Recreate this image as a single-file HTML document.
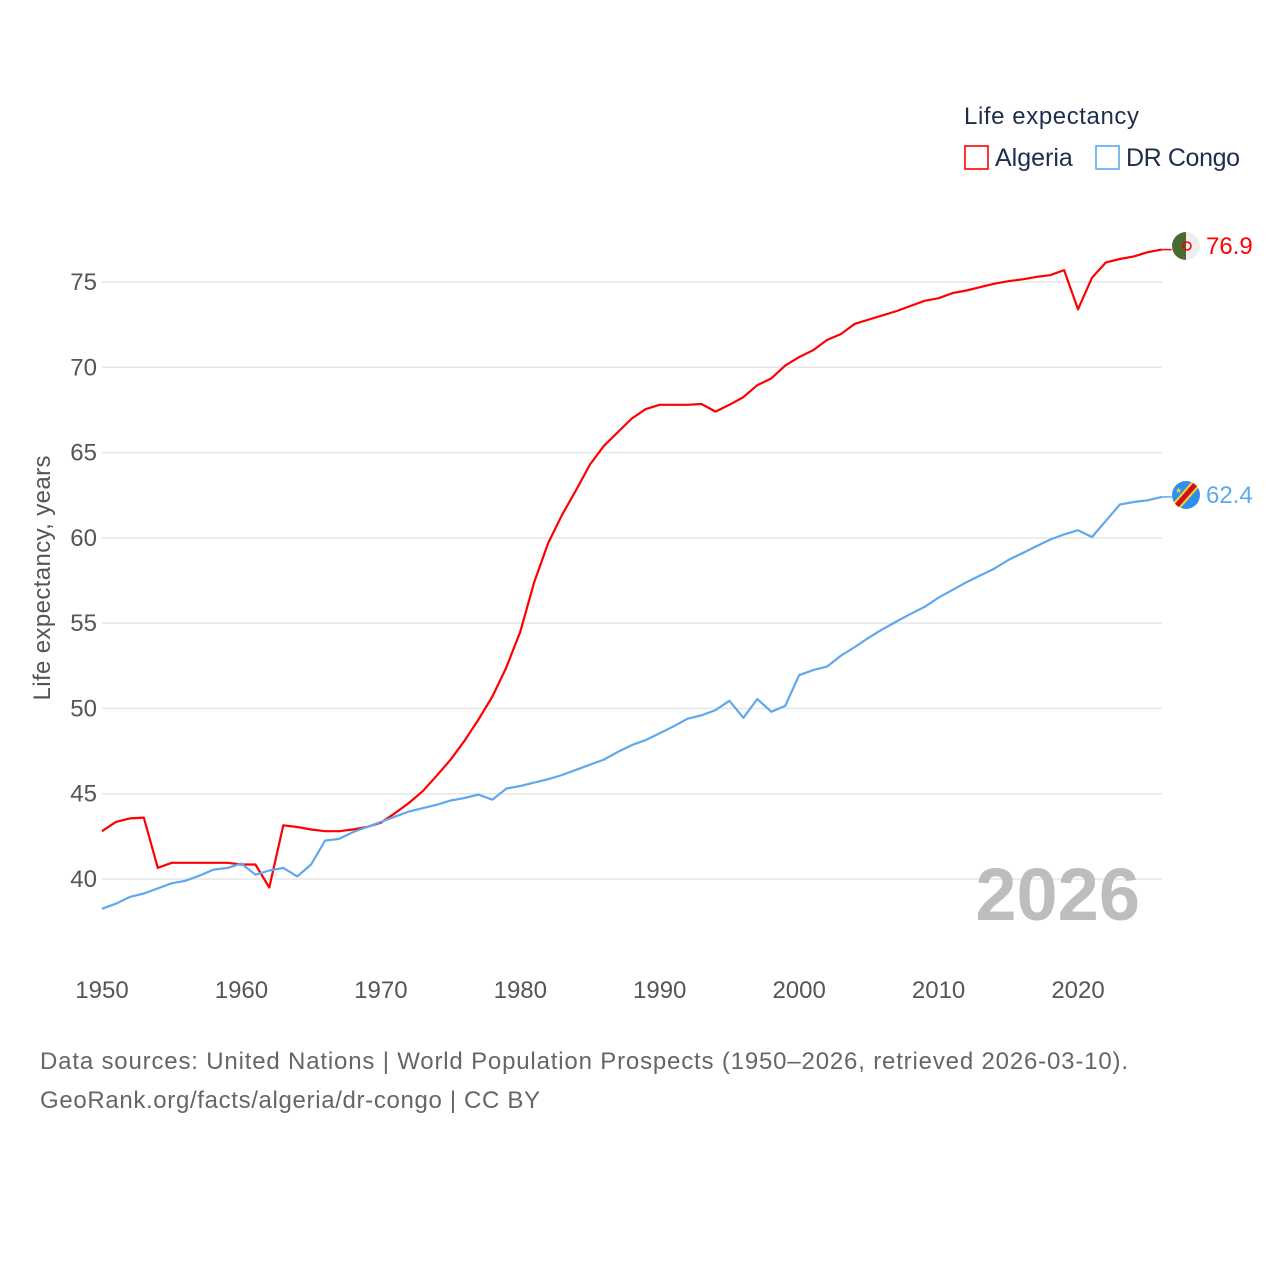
<!DOCTYPE html>
<html><head><meta charset="utf-8"><style>
html,body{margin:0;padding:0;background:#fff;}
svg{display:block;font-family:"Liberation Sans",sans-serif;}
</style></head><body>
<svg id="chart" width="1280" height="1280" viewBox="0 0 1280 1280" xmlns="http://www.w3.org/2000/svg">
<text x="964" y="124" font-size="24" fill="#1f2d4d" textLength="175">Life expectancy</text>
<g>
<rect x="965" y="146" width="23" height="23" fill="none" stroke="#ff0000" stroke-width="1.6"/>
<text x="995" y="166" font-size="25" fill="#1f2d4d">Algeria</text></g>
<g>
<rect x="1096" y="146" width="23" height="23" fill="none" stroke="#5fa8ef" stroke-width="1.6"/>
<text x="1126" y="166" font-size="25" fill="#1f2d4d" textLength="114">DR Congo</text></g>
<g id="grid"></g><g id="yticks"></g><g id="xticks"></g>
<text transform="translate(50,578) rotate(-90)" text-anchor="middle" font-size="24" fill="#555" textLength="245">Life expectancy, years</text>
<text x="1140" y="920" text-anchor="end" font-size="74" font-weight="bold" fill="#bdbdbd">2026</text>
<g id="series"></g>
<g>
<circle cx="1186" cy="246" r="14" fill="#eeeeee"/>
<path d="M1186 232 A14 14 0 0 0 1186 260 Z" fill="#4a6b30"/>
<circle cx="1187" cy="246" r="4" fill="none" stroke="#e00" stroke-width="1.5"/></g>
<text x="1206" y="254" font-size="24" fill="#ff0000">76.9</text>
<g>
<clipPath id="cc"><circle cx="1186" cy="495" r="14"/></clipPath>
<circle cx="1186" cy="495" r="14" fill="#2f8ef0"/>
<g clip-path="url(#cc)"><line x1="1172" y1="511" x2="1200" y2="479" stroke="#f7d618" stroke-width="9"/><line x1="1172" y1="511" x2="1200" y2="479" stroke="#ce1021" stroke-width="5"/></g>
<text x="1175" y="493" font-size="8" fill="#f7d618">★</text></g>
<text x="1206" y="503" font-size="24" fill="#5fa8ef">62.4</text>
<text x="40" y="1069" font-size="24" fill="#666" textLength="1088">Data sources: United Nations | World Population Prospects (1950–2026, retrieved 2026-03-10).</text>
<text x="40" y="1108" font-size="24" fill="#666" textLength="500">GeoRank.org/facts/algeria/dr-congo | CC BY</text>
</svg>
<script>
const startYear = 1950;
const yTicks = [40,45,50,55,60,65,70,75];
const xTicks = [1950,1960,1970,1980,1990,2000,2010,2020];
const algeria = [42.8,43.35,43.55,43.6,40.65,40.95,40.95,40.95,40.95,40.95,40.85,40.85,39.5,43.15,43.05,42.9,42.8,42.8,42.9,43.05,43.3,43.85,44.45,45.15,46.05,47.0,48.1,49.35,50.7,52.4,54.5,57.4,59.7,61.35,62.8,64.3,65.4,66.2,67.0,67.55,67.8,67.8,67.8,67.85,67.4,67.8,68.25,68.95,69.35,70.1,70.6,71.0,71.6,71.95,72.55,72.8,73.05,73.3,73.6,73.9,74.05,74.35,74.5,74.7,74.9,75.05,75.15,75.3,75.4,75.7,73.4,75.25,76.15,76.35,76.5,76.75,76.9];
const drCongo = [38.25,38.55,38.95,39.15,39.45,39.75,39.9,40.2,40.55,40.65,40.9,40.25,40.5,40.65,40.15,40.85,42.25,42.35,42.75,43.05,43.35,43.65,43.95,44.15,44.35,44.6,44.75,44.95,44.65,45.3,45.45,45.65,45.85,46.1,46.4,46.7,47.0,47.45,47.85,48.15,48.55,48.95,49.4,49.6,49.9,50.45,49.45,50.55,49.8,50.15,51.95,52.25,52.45,53.1,53.6,54.15,54.65,55.1,55.55,55.95,56.5,56.95,57.4,57.8,58.2,58.7,59.1,59.5,59.9,60.2,60.45,60.05,61.0,61.95,62.1,62.2,62.4];
const NS='http://www.w3.org/2000/svg';
const x = yr => 102 + (yr-1950)*13.943;
const y = v => 879 - (v-40)*17.057;
function mk(tag, attrs, parent){const e=document.createElementNS(NS,tag);for(const k in attrs)e.setAttribute(k,attrs[k]);parent.appendChild(e);return e;}
const grid=document.getElementById('grid'), yt=document.getElementById('yticks'), xt=document.getElementById('xticks'), ser=document.getElementById('series');
yTicks.forEach(v=>{
  const l=mk('line',{x1:102,x2:1162,y1:y(v),y2:y(v),stroke:'#e6e6e6','stroke-width':1.5},grid);
  
  
  const t=mk('text',{x:97,y:y(v)+8,'text-anchor':'end','font-size':24,fill:'#555'},yt);
  t.textContent=v;
  
  
});
xTicks.forEach(v=>{
  const t=mk('text',{x:x(v),y:998,'text-anchor':'middle','font-size':24,fill:'#555'},xt);
  t.textContent=v;
  
  
});
function line(data,color,name){
  const d=data.map((v,i)=>(i?'L':'M')+x(startYear+i).toFixed(1)+' '+y(v).toFixed(1)).join(' ');
  const p=mk('path',{d:d,fill:'none',stroke:color,'stroke-width':2.2,'stroke-linejoin':'round'},ser);
  
  
  const last=data.length-1;
  mk('line',{x1:x(startYear+last),x2:x(startYear+last)+10,y1:y(data[last]),y2:y(data[last]),stroke:color,'stroke-width':1.5},ser);
}
line(algeria,'#ff0000','algeria-line');
line(drCongo,'#5fa8ef','dr-congo-line');
</script>
</body></html>
